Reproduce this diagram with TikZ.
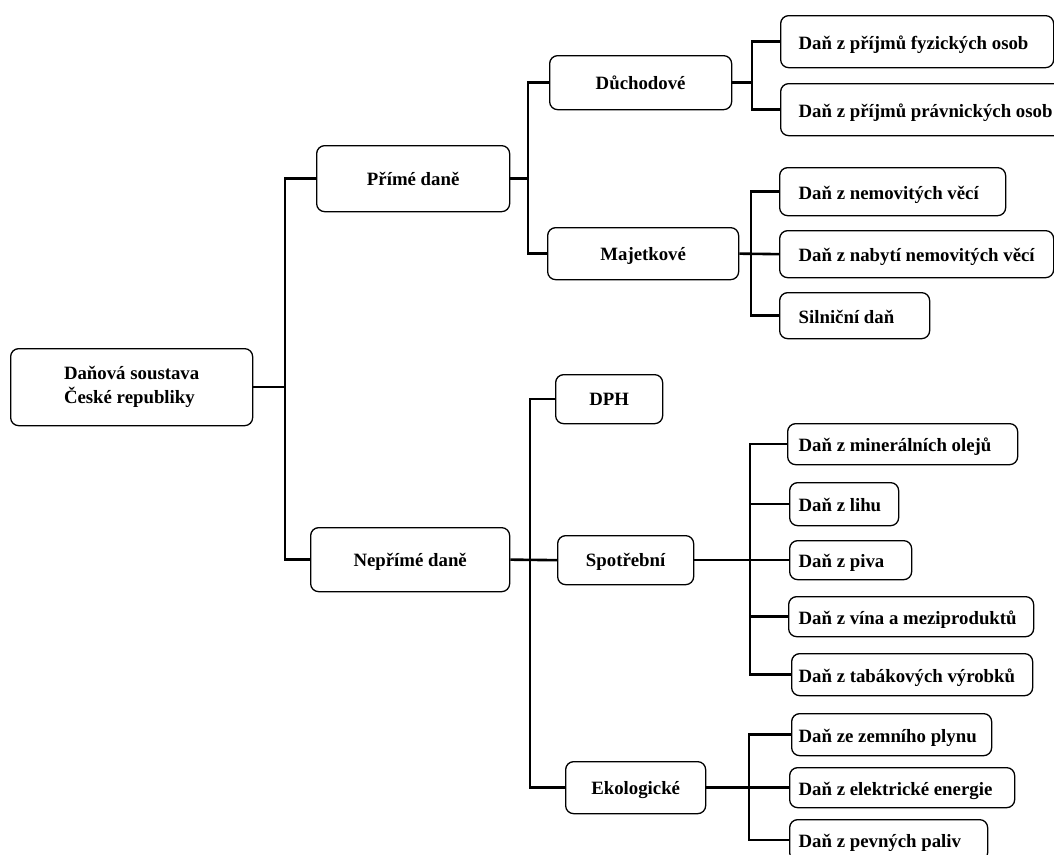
\documentclass[tikz,border=0pt]{standalone}
\usepackage{fontspec}
\setmainfont{Liberation Serif}
\newcommand\leaftext[1]{\mbox{\spaceskip=0pt\xspaceskip=0pt\relax #1}}
\begin{document}
\begin{tikzpicture}[x=1pt,y=-1pt,
  base/.style={draw, line width=1.3pt, rounded corners=8pt, anchor=north west,
    font=\fontsize{18.8}{24}\selectfont\bfseries, inner ysep=0pt},
  mid/.style={base, text height=17pt, text depth=4pt},
  leaf/.style={base, text height=19.5pt, text depth=4pt, align=left},
  conn/.style={line width=2.6pt, line join=miter}]
\useasboundingbox (0,0) rectangle (1054,854);
% level 0
\node[base, align=left, minimum width=242pt, minimum height=77pt] (root) at (10,348) {Daňová soustava\\České republiky};
% level 1
\node[mid, minimum width=193pt, minimum height=66pt] (prime) at (316,145) {Přímé daně};
\node[mid, minimum width=199pt, minimum height=64pt] (neprime) at (310,527) {Nepřímé daně};
% level 2
\node[mid, minimum width=182pt, minimum height=54pt] (duch) at (549,55) {Důchodové};
\node[mid, minimum width=191pt, minimum height=52pt] (majet) at (547,227) {Majetkové};
\node[mid, minimum width=107pt, minimum height=49pt] (dph) at (555,374) {DPH};
\node[mid, minimum width=136pt, minimum height=49pt] (spotr) at (557,535) {Spotřební};
\node[mid, minimum width=140pt, minimum height=52pt] (ekol) at (565,761) {Ekologické};
% leaves
\node[leaf, inner xsep=18pt, text width=237pt, minimum height=52pt] (l1) at (780,15) {\leaftext{Daň z příjmů fyzických osob}};
\node[leaf, inner xsep=18pt, text width=259pt, minimum height=52pt] (l2) at (780,83) {\leaftext{Daň z příjmů právnických osob}};
\node[leaf, inner xsep=19pt, text width=188pt, minimum height=48pt] (l3) at (779,167) {\leaftext{Daň z nemovitých věcí}};
\node[leaf, inner xsep=19pt, text width=236pt, minimum height=47pt] (l4) at (779,230) {\leaftext{Daň z nabytí nemovitých věcí}};
\node[leaf, inner xsep=19pt, text width=112pt, minimum height=46pt] (l5) at (779,292) {\leaftext{Silniční daň}};
\node[leaf, inner xsep=11pt, text width=208pt, minimum height=41pt] (l6) at (787,423) {\leaftext{Daň z minerálních olejů}};
\node[leaf, inner xsep=9pt, text width=91pt, minimum height=43pt] (l7) at (789,482) {\leaftext{Daň z lihu}};
\node[leaf, inner xsep=9pt, text width=104pt, minimum height=39pt] (l8) at (789,540) {\leaftext{Daň z piva}};
\node[leaf, inner xsep=10pt, text width=225pt, minimum height=40pt] (l9) at (788,596) {\leaftext{Daň z vína a meziproduktů}};
\node[leaf, inner xsep=7pt, text width=227pt, minimum height=42pt] (l10) at (791,653) {\leaftext{Daň z tabákových výrobků}};
\node[leaf, inner xsep=7pt, text width=186pt, minimum height=42pt] (l11) at (791,713) {\leaftext{Daň ze zemního plynu}};
\node[leaf, inner xsep=9pt, text width=207pt, minimum height=40pt] (l12) at (789,767) {\leaftext{Daň z elektrické energie}};
\node[leaf, inner xsep=9pt, text width=180pt, minimum height=41pt] (l13) at (789,819) {\leaftext{Daň z pevných paliv}};
% junction columns
\coordinate (j0) at (285,0);
\coordinate (j1) at (528,0);
\coordinate (j2) at (530,0);
\coordinate (j3) at (752,0);
\coordinate (j4) at (751,0);
\coordinate (j5) at (750,0);
\coordinate (j6) at (749,0);
% connectors
\draw[conn] (root.east) -- (root.east -| j0);
\draw[conn] (prime.west) -- (prime.west -| j0) -- (neprime.west -| j0) -- (neprime.west);

\draw[conn] (prime.east) -- (prime.east -| j1);
\draw[conn] (duch.west) -- (duch.west -| j1) -- (majet.west -| j1) -- (majet.west);

\draw[conn] (neprime.east) -- (spotr.west);
\draw[conn] (dph.west) -- (dph.west -| j2) -- (ekol.west -| j2) -- (ekol.west);

\draw[conn] (duch.east) -- (duch.east -| j3);
\draw[conn] (l1.west) -- (l1.west -| j3) -- (l2.west -| j3) -- (l2.west);

\draw[conn] (majet.east) -- (l4.west);
\draw[conn] (l3.west) -- (l3.west -| j4) -- (l5.west -| j4) -- (l5.west);

\draw[conn] (spotr.east) -- (l8.west);
\draw[conn] (l6.west) -- (l6.west -| j5) -- (l10.west -| j5) -- (l10.west);
\draw[conn] (l7.west) -- (l7.west -| j5);
\draw[conn] (l9.west) -- (l9.west -| j5);

\draw[conn] (ekol.east) -- (l12.west);
\draw[conn] (l11.west) -- (l11.west -| j6) -- (l13.west -| j6) -- (l13.west);
\end{tikzpicture}
\end{document}
